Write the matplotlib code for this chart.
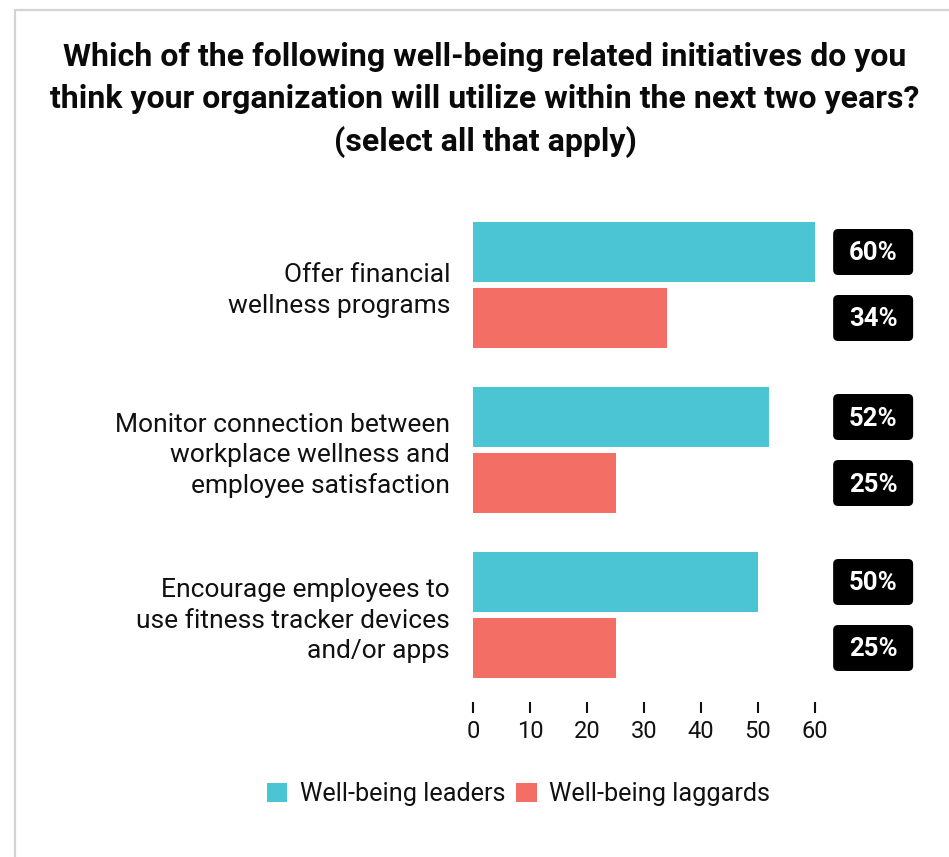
import matplotlib
matplotlib.use("Agg")
import matplotlib.pyplot as plt
from matplotlib.patches import Rectangle, Patch, FancyBboxPatch

plt.rcParams['font.family'] = ['Roboto', 'DejaVu Sans']

categories = [
    "Offer financial\nwellness programs",
    "Monitor connection between\nworkplace wellness and\nemployee satisfaction",
    "Encourage employees to\nuse fitness tracker devices\nand/or apps",
]
leaders = [60, 52, 50]
laggards = [34, 25, 25]
series_names = ["Well-being leaders", "Well-being laggards"]
colors = ["#4BC4D4", "#F36E64"]
xticks = [0, 10, 20, 30, 40, 50, 60]
title = ("Which of the following well-being related initiatives do you\n"
         "think your organization will utilize within the next two years?\n"
         "(select all that apply)")

W, H = 949, 857
fig = plt.figure(figsize=(W / 100, H / 100), dpi=100)

# light frame that runs off the right and bottom edges
fig.patches.append(Rectangle((15 / W, -0.1), 1.2, (H - 10) / H + 0.1,
                             transform=fig.transFigure, fill=False,
                             edgecolor="#D5D2D2", linewidth=1.6, zorder=0))

ax_left, ax_right = 473, 815
ax_top, ax_bot = 200, 702
ax = fig.add_axes([ax_left / W, 1 - ax_bot / H, (ax_right - ax_left) / W,
                   (ax_bot - ax_top) / H])

group_px = 165.0
y0_px = 285.0
ax.set_ylim((ax_bot - y0_px) / group_px, (ax_top - y0_px) / group_px)
ax.set_xlim(0, 60)
px_per_unit = (ax_right - ax_left) / 60.0

bar_h = 60 / group_px
off = 33 / group_px
pos = list(range(len(categories)))
ax.barh([p - off for p in pos], leaders, height=bar_h, color=colors[0],
        label=series_names[0])
ax.barh([p + off for p in pos], laggards, height=bar_h, color=colors[1],
        label=series_names[1])

# value badges to the right of the plot area
badge_x = 70.2
badge_w = 80 / px_per_unit
badge_h = 46 / group_px
aspect = px_per_unit / group_px
for vals, sign in ((leaders, -1), (laggards, 1)):
    for p, v in zip(pos, vals):
        yc = p + sign * off
        ax.add_patch(FancyBboxPatch((badge_x - badge_w / 2, yc - badge_h / 2),
                                    badge_w, badge_h,
                                    boxstyle="round,pad=0,rounding_size=0.9",
                                    mutation_aspect=aspect, facecolor="black",
                                    edgecolor="none", clip_on=False))
        ax.text(badge_x, yc + 1.5 / group_px, f"{v}%", ha="center",
                va="center", color="white", fontsize=18.5, fontweight="bold",
                clip_on=False)

for s in ax.spines.values():
    s.set_visible(False)
ax.set_xticks(xticks)
ax.set_xticklabels([str(t) for t in xticks])
ax.tick_params(axis="x", direction="out", length=8, width=1.5, pad=5,
               labelsize=17, colors="#111111")
ax.set_yticks(pos)
ax.set_yticklabels(categories)
ax.tick_params(axis="y", length=0, pad=16.5, labelsize=19, colors="#111111")
for lbl in ax.get_yticklabels():
    lbl.set_linespacing(1.32)

fig.text(485 / W, 1 - 100 / H, title, ha="center", va="center",
         fontsize=23, fontweight="bold", color="#0a0a0a", linespacing=1.5)

handles = [Patch(facecolor=c, edgecolor="none") for c in colors]
fig.legend(handles, series_names, loc="center", bbox_to_anchor=(518.5 / W, 1 - 794 / H),
           ncol=2, frameon=False, fontsize=18.2, handlelength=0.8,
           handleheight=0.8, handletextpad=0.5, columnspacing=0.45,
           labelcolor="#111111")

fig.savefig("out.png", dpi=100)
